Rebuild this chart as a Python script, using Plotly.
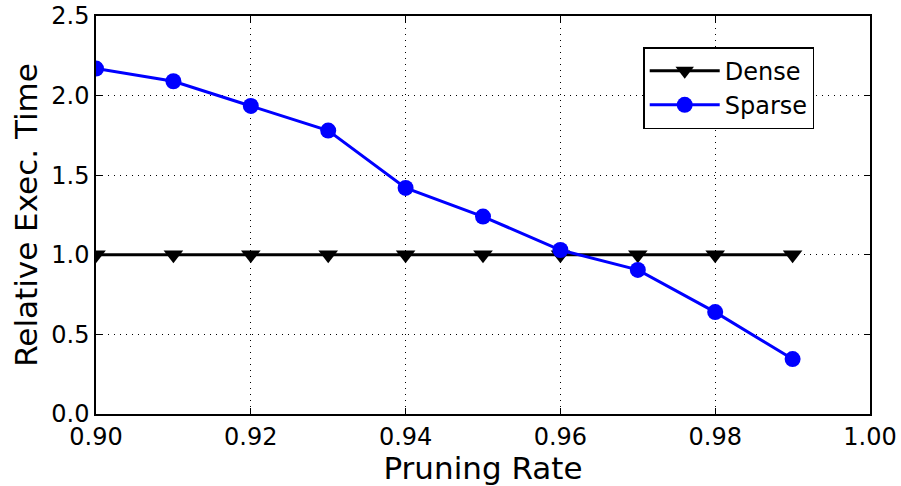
import plotly.graph_objects as go

pruning_rate = [0.90, 0.91, 0.92, 0.93, 0.94, 0.95, 0.96, 0.97, 0.98, 0.99]
dense = [1.0] * 10
sparse = [2.17, 2.09, 1.935, 1.78, 1.42, 1.24, 1.03, 0.905, 0.64, 0.345]

x_ticks = [0.90, 0.92, 0.94, 0.96, 0.98, 1.00]
y_ticks = [0.0, 0.5, 1.0, 1.5, 2.0, 2.5]

FONT = "DejaVu Sans"

fig = go.Figure()
fig.add_trace(go.Scatter(
    x=pruning_rate, y=dense, name="Dense", mode="lines+markers",
    line=dict(color="black", width=3),
    marker=dict(symbol="triangle-down", size=17, color="black"),
))
fig.add_trace(go.Scatter(
    x=pruning_rate, y=sparse, name="Sparse", mode="lines+markers",
    line=dict(color="#0000ff", width=3),
    marker=dict(symbol="circle", size=16, color="#0000ff"),
))

axis_common = dict(
    showline=True, linecolor="black", linewidth=1.5, mirror="ticks",
    ticks="inside", ticklen=6, tickcolor="black",
    showgrid=True, gridcolor="black", griddash="1px,5px", gridwidth=1.2,
    zeroline=False, automargin=False, ticklabeloverflow="allow",
    tickfont=dict(family=FONT, size=24, color="black"),
)

fig.update_xaxes(
    range=[0.90, 1.00], tickvals=x_ticks, tickformat=".2f",
    title=dict(text="Pruning Rate", font=dict(family=FONT, size=31, color="black")),
    **axis_common,
)
fig.update_yaxes(
    range=[0, 2.5], tickvals=y_ticks, tickformat=".1f",
    title=dict(text="Relative Exec. Time", font=dict(family=FONT, size=31, color="black"), standoff=4),
    **axis_common,
)

fig.update_layout(
    template="none",
    width=901, height=486,
    margin=dict(l=96, r=31, t=16, b=72),
    plot_bgcolor="white", paper_bgcolor="white",
    font=dict(family=FONT, color="black"),
    legend=dict(
        x=0.707, y=0.922, xanchor="left", yanchor="top",
        bgcolor="white", bordercolor="black", borderwidth=1.5,
        font=dict(family=FONT, size=24, color="black"),
        itemwidth=70, tracegroupgap=0,
    ),
)

fig.write_html(
    "out.html",
    config={"displayModeBar": False},
    post_script="document.body.style.margin='0';document.body.style.overflow='hidden';",
)
